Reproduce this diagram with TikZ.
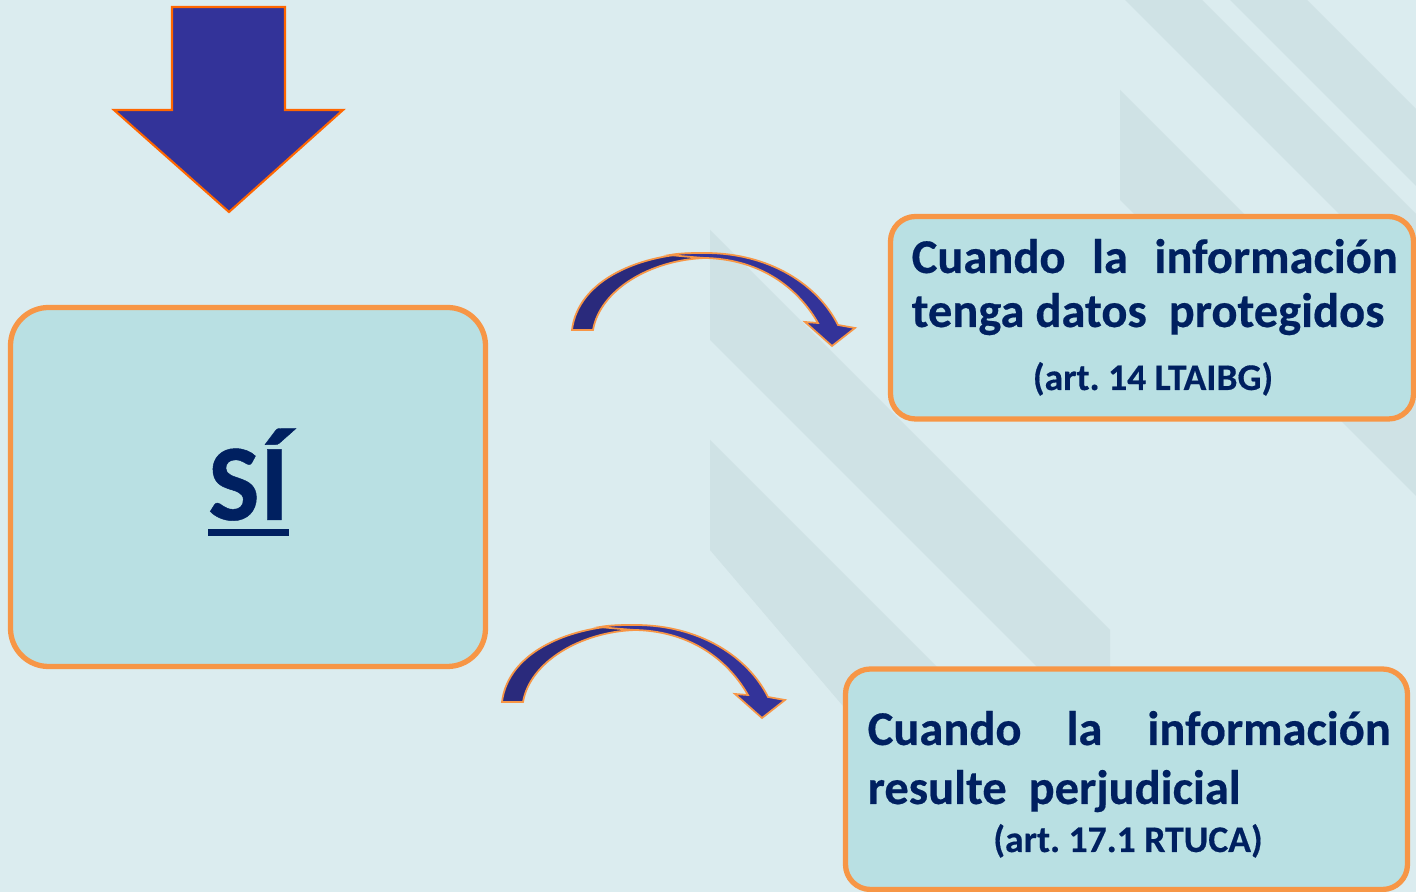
\documentclass[tikz,border=0pt]{standalone}
\usepackage{fontspec}
\setmainfont{Carlito}[BoldFeatures={FakeBold=0.4}]
\usepackage{tikz}
\definecolor{bg1}{HTML}{DBECEF}
\definecolor{mark1}{HTML}{CFE2E5}
\definecolor{box1}{HTML}{B9E0E3}
\definecolor{orange1}{HTML}{F79646}
\definecolor{orange2}{HTML}{FF6600}
\definecolor{navy1}{HTML}{002060}
\definecolor{blue1}{HTML}{333399}
\definecolor{blue2}{HTML}{2A2A7C}
\newcommand{\siline}[1]{\setbox0=\hbox{#1}\rlap{\rule[-4.5pt]{\wd0}{2pt}}\box0}
\frenchspacing

\begin{document}
\begin{tikzpicture}[
  panel/.style={draw=orange1,fill=box1,line width=1.5pt,rounded corners=0.25cm},
  txt/.style={inner sep=0pt,text=navy1,font=\bfseries\fontsize{13.8}{16}\selectfont},
  arttxt/.style={inner sep=0pt,text=navy1,font=\bfseries\fontsize{10.7}{12}\selectfont},
  band/.style={fill=mark1,draw=none}]
\useasboundingbox (0,0) rectangle (14.16,8.92);
\fill[bg1] (0,0) rectangle (14.16,8.92);
% watermark
\fill[band] (7.10,6.62) -- (11.10,2.62) -- (11.10,1.52) -- (7.10,5.52) -- cycle;
\fill[band] (7.10,4.52) -- (10.10,1.52) -- (10.10,-0.10) -- (7.10,3.42) -- cycle;
\fill[band] (11.20,8.02) -- (14.16,5.06) -- (14.16,3.96) -- (11.20,6.92) -- cycle;
\fill[band] (11.25,8.92) -- (12.02,8.92) -- (14.16,6.78) -- (14.16,6.01) -- cycle;
\fill[band] (12.30,8.92) -- (13.07,8.92) -- (14.16,7.83) -- (14.16,7.06) -- cycle;
%
\draw[draw=orange2,fill=blue1,line width=0.6pt] (1.72,8.85) -- (2.85,8.85) -- (2.85,7.82)
  -- (3.43,7.82) -- (2.29,6.80) -- (1.14,7.82) -- (1.72,7.82) -- cycle;
%
\node[panel,rounded corners=0.38cm,minimum width=4.75cm,minimum height=3.59cm] (sibox) at (2.48,4.05) {};
\node[inner sep=0pt,text=navy1,font=\bfseries\fontsize{31}{36}\selectfont,anchor=base] (si) at (2.485,3.72) {\siline{SÍ}};
%
\node[panel,minimum width=5.23cm,minimum height=2.025cm] (datos) at (11.52,5.7425) {};
\node[txt,anchor=base west] (datos1) at (9.11,6.19) {\makebox[4.86cm][s]{Cuando la información}};
\node[txt,anchor=base west] (datos2) at (9.11,5.65) {tenga datos\ \ protegidos};
\node[arttxt,anchor=base] (datos3) at (11.53,5.02) {(art. 14 LTAIBG)};
%
\node[panel,minimum width=5.62cm,minimum height=2.205cm] (perj) at (11.265,1.1275) {};
\node[txt,anchor=base west] (perj1) at (8.67,1.47) {\makebox[5.23cm][s]{Cuando la información}};
\node[txt,anchor=base west] (perj2) at (8.67,0.88) {resulte\ \ perjudicial};
\node[arttxt,anchor=base] (perj3) at (11.28,0.40) {(art. 17.1 RTUCA)};
%
\draw[draw=orange1,fill=blue2,line width=0.5pt] (5.72,5.62) .. controls (5.78,6.12) and (6.40,6.39) .. (7.05,6.39)
  -- (7.05,6.34) .. controls (6.50,6.32) and (6.00,6.02) .. (5.93,5.62) -- cycle;
\draw[draw=orange1,fill=blue1,line width=0.5pt] (6.70,6.37) .. controls (6.80,6.39) and (6.95,6.39) .. (7.05,6.39)
  .. controls (7.70,6.39) and (8.18,6.07) .. (8.38,5.67) -- (8.55,5.64) -- (8.32,5.46) -- (8.05,5.70) -- (8.18,5.69)
  .. controls (7.95,6.09) and (7.55,6.33) .. (7.05,6.34) .. controls (6.90,6.35) and (6.80,6.36) .. (6.70,6.37) -- cycle;
%
\draw[draw=orange1,fill=blue2,line width=0.5pt] (5.02,1.90) .. controls (5.08,2.40) and (5.70,2.67) .. (6.35,2.67)
  -- (6.35,2.62) .. controls (5.80,2.60) and (5.30,2.30) .. (5.23,1.90) -- cycle;
\draw[draw=orange1,fill=blue1,line width=0.5pt] (6.00,2.65) .. controls (6.10,2.67) and (6.25,2.67) .. (6.35,2.67)
  .. controls (7.00,2.67) and (7.48,2.35) .. (7.68,1.95) -- (7.85,1.92) -- (7.62,1.74) -- (7.35,1.98) -- (7.48,1.97)
  .. controls (7.25,2.37) and (6.85,2.61) .. (6.35,2.62) .. controls (6.20,2.63) and (6.10,2.64) .. (6.00,2.65) -- cycle;
\end{tikzpicture}
\end{document}
